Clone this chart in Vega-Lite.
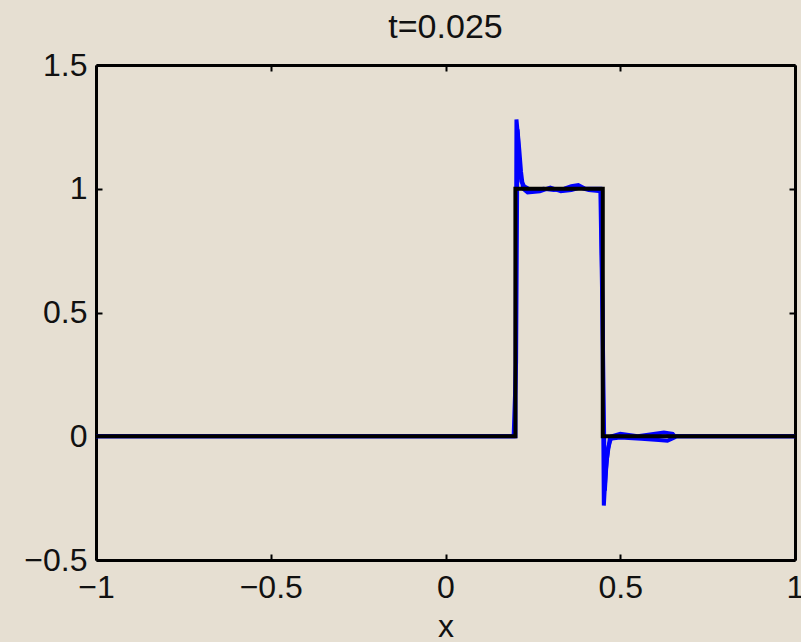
{
  "$schema": "https://vega.github.io/schema/vega-lite/v6.json",
  "width": 699,
  "height": 495,
  "autosize": {"type": "none"},
  "padding": {"left": 96, "top": 65, "right": 6, "bottom": 82},
  "background": "#e6dfd2",
  "config": {
    "view": {"stroke": null},
    "font": "Liberation Sans",
    "axis": {
      "domainColor": "black", "domainWidth": 3,
      "tickColor": "black", "tickWidth": 2, "tickSize": -6,
      "grid": false,
      "labelFont": "Liberation Sans", "labelFontSize": 32, "labelColor": "#111",
      "titleFont": "Liberation Sans", "titleFontSize": 32, "titleFontWeight": "normal", "titleColor": "#111"
    },
    "title": {"font": "Liberation Sans", "fontSize": 34, "fontWeight": "normal", "color": "#111"}
  },
  "title": {"text": "t=0.025", "offset": 4},
  "datasets": {
    "numerical": [
      {"i": 0, "x": -1, "u": 0},
      {"i": 1, "x": 0.19, "u": 0},
      {"i": 2, "x": 0.2, "u": 0.0},
      {"i": 3, "x": 0.203, "u": 1.28},
      {"i": 4, "x": 0.207, "u": 1.22},
      {"i": 5, "x": 0.211, "u": 1.1},
      {"i": 6, "x": 0.217, "u": 1.03},
      {"i": 7, "x": 0.225, "u": 1.01},
      {"i": 8, "x": 0.25, "u": 0.99},
      {"i": 9, "x": 0.28, "u": 1.0},
      {"i": 10, "x": 0.31, "u": 0.995},
      {"i": 11, "x": 0.34, "u": 1.0},
      {"i": 12, "x": 0.36, "u": 1.01},
      {"i": 13, "x": 0.38, "u": 1.015},
      {"i": 14, "x": 0.40, "u": 1.0},
      {"i": 15, "x": 0.443, "u": 1.0},
      {"i": 16, "x": 0.449, "u": 0.5},
      {"i": 17, "x": 0.453, "u": -0.28},
      {"i": 18, "x": 0.458, "u": -0.15},
      {"i": 19, "x": 0.465, "u": -0.05},
      {"i": 20, "x": 0.475, "u": 0.0},
      {"i": 21, "x": 0.5, "u": 0.01},
      {"i": 22, "x": 0.55, "u": 0.0},
      {"i": 23, "x": 0.6, "u": 0.01},
      {"i": 24, "x": 0.625, "u": 0.015},
      {"i": 25, "x": 0.65, "u": 0.01},
      {"i": 26, "x": 0.656, "u": 0},
      {"i": 27, "x": 1, "u": 0}
    ],
    "numerical2": [
      {"i": 0, "x": -1, "u": 0},
      {"i": 1, "x": 0.195, "u": 0},
      {"i": 2, "x": 0.202, "u": 0.3},
      {"i": 3, "x": 0.206, "u": 1.24},
      {"i": 4, "x": 0.211, "u": 1.16},
      {"i": 5, "x": 0.216, "u": 1.07},
      {"i": 6, "x": 0.222, "u": 1.0},
      {"i": 7, "x": 0.235, "u": 0.985},
      {"i": 8, "x": 0.27, "u": 0.99},
      {"i": 9, "x": 0.3, "u": 1.005},
      {"i": 10, "x": 0.33, "u": 0.99},
      {"i": 11, "x": 0.36, "u": 0.995},
      {"i": 12, "x": 0.385, "u": 1.005},
      {"i": 13, "x": 0.41, "u": 0.995},
      {"i": 14, "x": 0.445, "u": 0.99},
      {"i": 15, "x": 0.452, "u": 0.2},
      {"i": 16, "x": 0.456, "u": -0.22},
      {"i": 17, "x": 0.461, "u": -0.1},
      {"i": 18, "x": 0.47, "u": -0.01},
      {"i": 19, "x": 0.5, "u": -0.005},
      {"i": 20, "x": 0.56, "u": -0.01},
      {"i": 21, "x": 0.61, "u": -0.015},
      {"i": 22, "x": 0.635, "u": -0.018},
      {"i": 23, "x": 0.655, "u": -0.005},
      {"i": 24, "x": 0.66, "u": 0},
      {"i": 25, "x": 1, "u": 0}
    ],
    "exact": [
      {"i": 0, "x": -1, "u": 0},
      {"i": 1, "x": 0.2, "u": 0},
      {"i": 2, "x": 0.2, "u": 1},
      {"i": 3, "x": 0.45, "u": 1},
      {"i": 4, "x": 0.45, "u": 0},
      {"i": 5, "x": 1, "u": 0}
    ]
  },
  "layer": [
    {
      "data": {"name": "numerical"},
      "mark": {"type": "line", "color": "#0000ff", "strokeWidth": 4, "strokeJoin": "miter"},
      "encoding": {
        "x": {"field": "x", "type": "quantitative", "scale": {"domain": [-1, 1], "nice": false, "zero": false},
              "axis": {"orient": "bottom", "values": [-1, -0.5, 0, 0.5, 1], "format": "~g", "title": "x", "labelPadding": 18, "titlePadding": 8, "labelFlush": false}},
        "y": {"field": "u", "type": "quantitative", "scale": {"domain": [-0.5, 1.5], "nice": false, "zero": false},
              "axis": {"orient": "left", "values": [-0.5, 0, 0.5, 1, 1.5], "format": "~g", "title": null, "labelPadding": 15, "labelFlush": false}},
        "order": {"field": "i", "type": "quantitative"}
      }
    },
    {
      "data": {"name": "numerical2"},
      "mark": {"type": "line", "color": "#0000ff", "strokeWidth": 4, "strokeJoin": "miter"},
      "encoding": {
        "x": {"field": "x", "type": "quantitative", "axis": null},
        "y": {"field": "u", "type": "quantitative", "axis": null},
        "order": {"field": "i", "type": "quantitative"}
      }
    },
    {
      "data": {"name": "exact"},
      "mark": {"type": "line", "color": "#000000", "strokeWidth": 4, "strokeJoin": "miter"},
      "encoding": {
        "x": {"field": "x", "type": "quantitative",
              "axis": {"orient": "top", "values": [-1, -0.5, 0, 0.5, 1], "title": null, "labels": false}},
        "y": {"field": "u", "type": "quantitative",
              "axis": {"orient": "right", "values": [-0.5, 0, 0.5, 1, 1.5], "title": null, "labels": false}},
        "order": {"field": "i", "type": "quantitative"}
      }
    }
  ],
  "resolve": {"axis": {"x": "independent", "y": "independent"}}
}
